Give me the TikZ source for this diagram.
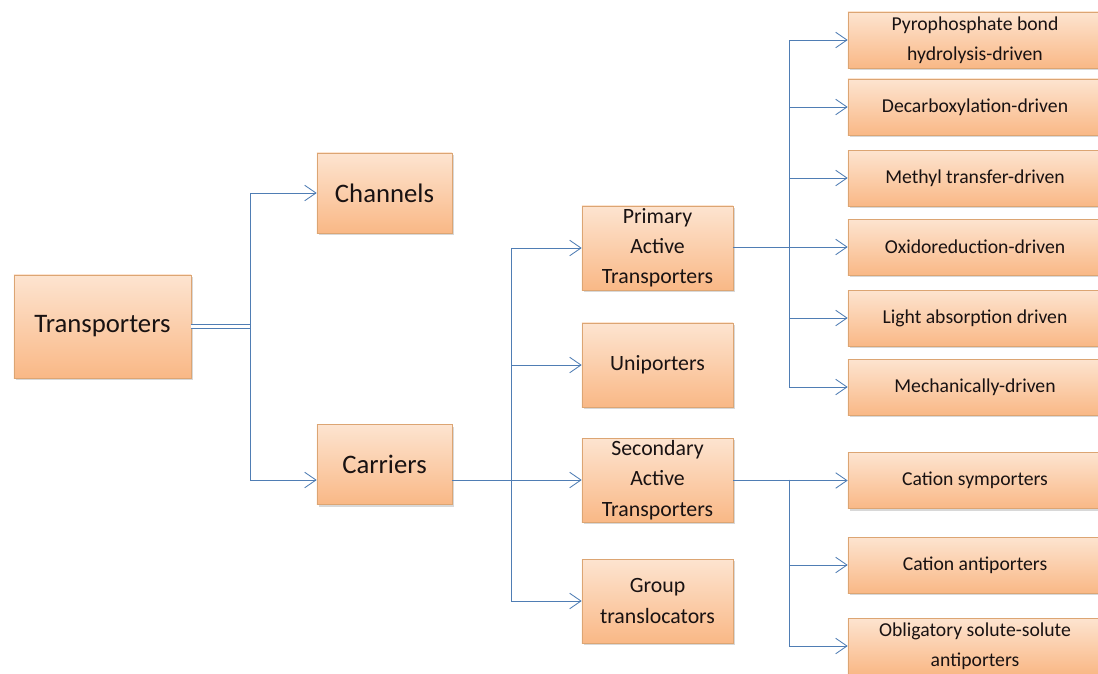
\documentclass[tikz,border=0pt]{standalone}
\usepackage{fontspec}
\setmainfont{Carlito}
\usepackage{tikz}
\usetikzlibrary{shapes,arrows.meta,positioning,calc,shadows}
\definecolor{boxtop}{RGB}{253,228,208}
\definecolor{boxbottom}{RGB}{249,184,134}
\definecolor{boxedge}{RGB}{220,165,115}
\definecolor{linkblue}{RGB}{79,125,180}
\definecolor{textdark}{RGB}{25,18,18}

\begin{document}
\begin{tikzpicture}[
    x=0.025cm, y=-0.025cm,
    box/.style={rectangle, draw=boxedge, thin, top color=boxtop, bottom color=boxbottom, inner sep=0pt, align=center, text=textdark, drop shadow={opacity=0.3, shadow xshift=1.2pt, shadow yshift=-1.5pt}},
    mainbox/.style={box, minimum width=3.375cm, minimum height=2cm, font=\fontsize{19}{23}\selectfont},
    subbox/.style={box, minimum width=3.775cm, minimum height=2.1cm, font=\fontsize{15.5}{21.5}\selectfont},
    leafbox/.style={box, minimum width=6.35cm, minimum height=1.4cm, font=\fontsize{14}{21}\selectfont},
    arrow/.style={-{Straight Barb[length=8pt,width=11pt]}, draw=linkblue, semithick},
    link/.style={draw=linkblue, semithick}
]
    \clip (0,0) rectangle (1098,673);
    \fill[white] (0,0) rectangle (1098,673);

    % Root
    \node[mainbox, minimum width=4.425cm, minimum height=2.575cm] (trans) at (102.5,326.5) {Transporters};

    % First level
    \node[mainbox] (chan) at (384.5,193) {Channels};
    \node[mainbox] (carr) at (384.5,464.5) {Carriers};

    % Carrier types
    \node[subbox] (prim) at (657.5,248) {Primary\\Active\\Transporters};
    \node[subbox] (uni) at (657.5,365) {Uniporters};
    \node[subbox] (sec) at (657.5,480) {Secondary\\Active\\Transporters};
    \node[subbox] (grp) at (657.5,601) {Group\\translocators};

    % Primary active transporters
    \node[leafbox] (pyro) at (975,40) {Pyrophosphate bond\\hydrolysis-driven};
    \node[leafbox] (decarb) at (975,107) {Decarboxylation-driven};
    \node[leafbox] (methyl) at (975,178) {Methyl transfer-driven};
    \node[leafbox] (oxred) at (975,247) {Oxidoreduction-driven};
    \node[leafbox] (light) at (975,318) {Light absorption driven};
    \node[leafbox] (mech) at (975,387) {Mechanically-driven};

    % Secondary active transporters
    \node[leafbox] (csym) at (975,480.5) {Cation symporters};
    \node[leafbox] (canti) at (975,565) {Cation antiporters};
    \node[leafbox] (oblig) at (975,646) {Obligatory solute-solute\\antiporters};

    % Branch points
    \coordinate (split1) at (250,326.5);
    \coordinate (split2) at (511,480);
    \coordinate (split3) at (789,247);
    \coordinate (split4) at (789,480.5);

    % Arrows
    \draw[link, double=white, double distance=2pt] (trans.east) -- (split1);
    \draw[arrow] (split1) |- (chan.west);
    \draw[arrow] (split1) |- (carr.west |- sec.west);

    \draw[arrow] (carr.east |- sec.west) -- (sec.west);
    \draw[arrow] (split2) |- (prim.west);
    \draw[arrow] (split2) |- (uni.west);
    \draw[arrow] (split2) |- (grp.west);

    \draw[arrow] (prim.east |- oxred.west) -- (oxred.west);
    \foreach \leaf in {pyro,decarb,methyl,light,mech}
        \draw[arrow] (split3) |- (\leaf.west);

    \draw[arrow] (sec.east |- csym.west) -- (csym.west);
    \draw[arrow] (split4) |- (canti.west);
    \draw[arrow] ($(split4)+(0,-1)$) |- (oblig.west);
\end{tikzpicture}
\end{document}
